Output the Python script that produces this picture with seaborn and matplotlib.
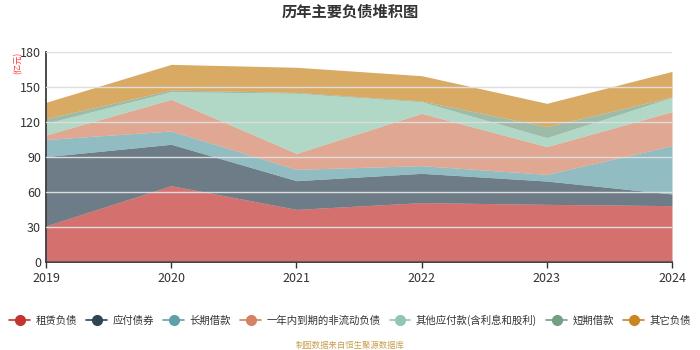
import numpy as np
import pandas as pd
import matplotlib
matplotlib.use("Agg")
import matplotlib.pyplot as plt
from matplotlib.lines import Line2D
import seaborn as sns

years = [2019, 2020, 2021, 2022, 2023, 2024]
series_names = ["租赁负债", "应付债券", "长期借款", "一年内到期的非流动负债",
                "其他应付款(含利息和股利)", "短期借款", "其它负债"]
lease = [31.0, 65.4, 45.1, 50.9, 49.4, 48.3]
bonds = [59.3, 35.5, 24.6, 25.1, 20.0, 10.0]
long_loans = [14.7, 11.4, 9.7, 6.6, 5.7, 41.4]
current_noncurrent = [3.9, 27.1, 13.7, 44.8, 23.8, 29.2]
other_payables = [10.0, 6.6, 51.5, 10.0, 7.7, 12.2]
short_loans = [4.0, 1.4, 0.8, 0.6, 9.4, 0.3]
other_liab = [14.0, 22.0, 21.5, 21.7, 20.0, 22.0]
colors = ["#c23531", "#2f4554", "#61a0a8", "#d48265", "#91c7ae", "#749f83", "#ca8622"]

sns.set_theme(style="white")
plt.rcParams['font.family'] = ['Noto Sans CJK SC', 'DejaVu Sans']

df = pd.DataFrame({"year": years})
vals = [lease, bonds, long_loans, current_noncurrent, other_payables, short_loans, other_liab]
for n, v in zip(series_names, vals):
    df[n] = v

fig = plt.figure(figsize=(7, 3.5), dpi=100)
ax = fig.add_axes([46/700, 1-262/350, (672-46)/700, (262-52)/350])

ax.stackplot(df["year"], *[df[n] for n in series_names], colors=colors, alpha=0.7, linewidth=0)

ax.set_xlim(2019, 2024)
ax.set_ylim(0, 180)
ax.set_yticks(range(0, 181, 30))
ax.set_xticks(years)
ax.grid(axis="y", color="#dddddd", linewidth=1)
ax.set_axisbelow(False)
for s in ["top", "right"]:
    ax.spines[s].set_visible(False)
ax.spines["left"].set_color("#333333")
ax.spines["bottom"].set_color("#333333")
ax.tick_params(axis="both", labelsize=9, colors="#333333", length=4, width=1,
               direction="out", left=True, bottom=True)
ax.tick_params(axis="y", length=0)

fig.text(350/700, 1-12/350, "历年主要负债堆积图", ha="center", va="center",
         fontsize=11, fontweight="bold", color="#333333")
fig.text(18/700, 1-63/350, "(亿元)", rotation=90, ha="center", va="center",
         fontsize=6, color="#ff3333")

handles = [Line2D([0], [0], color=c, marker="o", markersize=7, linewidth=1.2) for c in colors]
fig.legend(handles, series_names, loc="center", bbox_to_anchor=(0.5, 1-320/350),
           ncol=7, frameon=False, fontsize=7.5, handlelength=2.0, handletextpad=0.5,
           columnspacing=0.9, labelcolor="#333333", borderaxespad=0, borderpad=0)
fig.text(350/700, 1-345/350, "制图数据来自恒生聚源数据库", ha="center", va="center",
         fontsize=6, color="#c8a050")

fig.savefig("out.png", dpi=100)
